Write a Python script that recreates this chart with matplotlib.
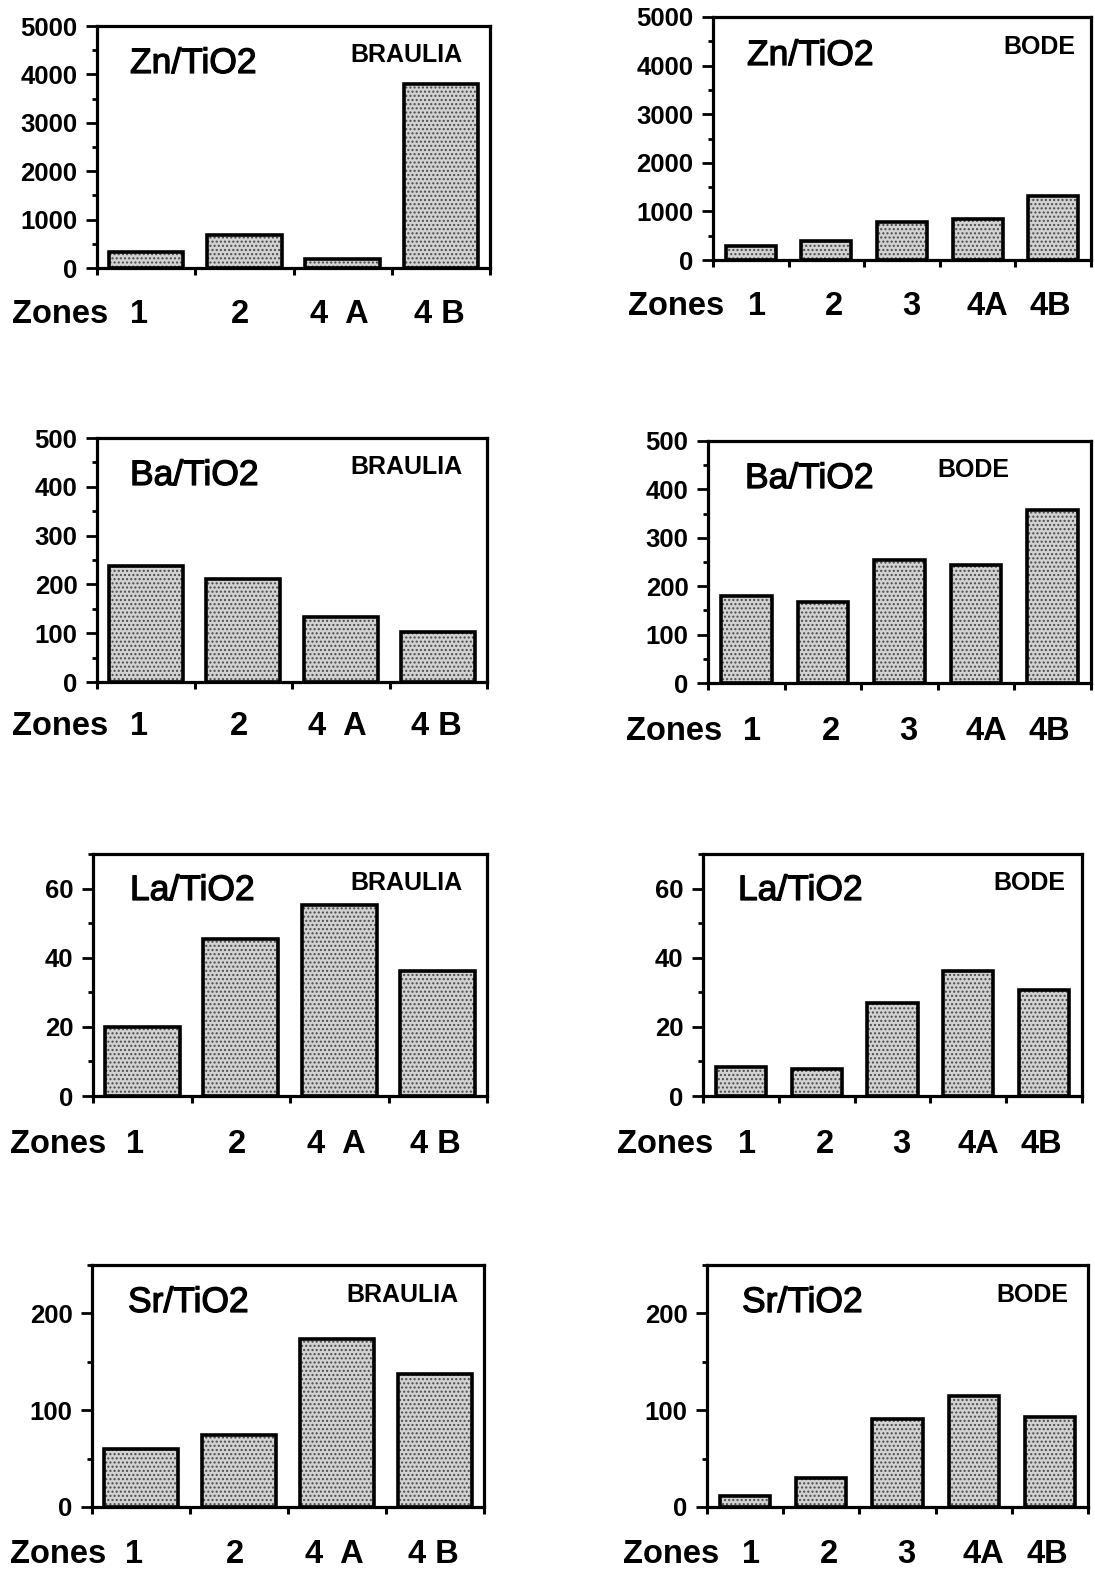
import matplotlib
matplotlib.use('Agg')
import matplotlib.pyplot as plt
import matplotlib.patheffects as pe
import numpy as np
from matplotlib.transforms import blended_transform_factory, offset_copy
from matplotlib.ticker import MultipleLocator, FixedLocator, NullFormatter

plt.rcParams['font.family'] = ['Liberation Sans', 'DejaVu Sans']

# data
zones_braulia = ['1', '2', '4  A', '4 B']
zones_bode = ['1', '2', '3', '4A', '4B']

zn_braulia = [330, 680, 185, 3800]
zn_bode = [290, 400, 780, 845, 1320]
ba_braulia = [238, 211, 134, 102]
ba_bode = [179, 167, 255, 243, 357]
la_braulia = [20, 45.4, 55.3, 36.1]
la_bode = [8.4, 7.7, 27.0, 36.3, 30.8]
sr_braulia = [60, 74, 174, 137]
sr_bode = [11, 30, 91, 115, 93]

W, H = 1095, 1572
fig = plt.figure(figsize=(W / 100, H / 100), dpi=100)


def fx(x):
    return x / W


def fy(y):
    return 1 - y / H


# small pixel nudges of the zone labels, as set in the original
nudge = {4: [-7, -4, -3, -2], 5: [6, 8, 9, 10, -3]}

# panel boxes in pixels: left, right, top, zero-line
panels = [
    ((97, 490, 26, 268), zn_braulia, zones_braulia, 5000, 1000, 500, 'Zn/TiO2', 'BRAULIA', (130, 73), (463, 62), (12, 323)),
    ((713, 1091, 17, 260), zn_bode, zones_bode, 5000, 1000, 500, 'Zn/TiO2', 'BODE', (747, 65), (1075, 54), (628, 315)),
    ((97, 487, 438, 682), ba_braulia, zones_braulia, 500, 100, 50, 'Ba/TiO2', 'BRAULIA', (130, 485), (463, 474), (12, 735)),
    ((708, 1091, 441, 683), ba_bode, zones_bode, 500, 100, 50, 'Ba/TiO2', 'BODE', (745, 488), (1009, 477), (626, 740)),
    ((93, 487, 854, 1096), la_braulia, zones_braulia, 70, 20, 10, 'La/TiO2', 'BRAULIA', (130, 900), (462, 890), (10, 1153)),
    ((703, 1082, 854, 1096), la_bode, zones_bode, 70, 20, 10, 'La/TiO2', 'BODE', (738, 900), (1065, 890), (617, 1153)),
    ((92, 484, 1265, 1507), sr_braulia, zones_braulia, 250, 100, 50, 'Sr/TiO2', 'BRAULIA', (128, 1312), (459, 1302), (10, 1563)),
    ((707, 1088, 1265, 1507), sr_bode, zones_bode, 250, 100, 50, 'Sr/TiO2', 'BODE', (742, 1312), (1068, 1302), (623, 1563)),
]

heavy = [pe.withStroke(linewidth=0.9, foreground='black')]

for box, vals, zones, ytop, major, minor, elem, site, txy, sxy, zxy in panels:
    l, r, t, b = box
    ax = fig.add_axes([fx(l), fy(b), (r - l) / W, (b - t) / H])
    n = len(vals)
    x = np.arange(n)
    bw = 0.76 if n == 4 else 0.66
    ax.bar(x, vals, width=bw, color='#d2d2d2', edgecolor='#4a4a4a', linewidth=0, hatch='....', zorder=2)
    ax.bar(x, vals, width=bw, fill=False, edgecolor='black', linewidth=2.6, zorder=3)
    ax.set_xlim(-0.5, n - 0.5)
    ax.set_ylim(0, ytop)

    ax.yaxis.set_major_locator(MultipleLocator(major))
    ax.yaxis.set_minor_locator(MultipleLocator(minor))
    ax.tick_params(axis='y', which='major', direction='out', length=8, width=2, pad=6,
                   labelsize=18.5)
    ax.tick_params(axis='y', which='minor', direction='out', length=3.5, width=2)
    for lab in ax.get_yticklabels():
        lab.set_fontweight('bold')

    ax.xaxis.set_major_locator(FixedLocator([]))
    ax.xaxis.set_minor_locator(FixedLocator(np.arange(n + 1) - 0.5))
    ax.xaxis.set_minor_formatter(NullFormatter())
    ax.tick_params(axis='x', which='minor', direction='out', length=5, width=2.2)

    for sp in ax.spines.values():
        sp.set_linewidth(2.3)

    # category labels under the axis
    trans = blended_transform_factory(ax.transData, fig.transFigure)
    for i, z in enumerate(zones):
        tr = offset_copy(trans, fig=fig, x=nudge[n][i], y=0, units='dots')
        ax.text(i, fy(zxy[1]), z, transform=tr, ha='center', va='baseline',
                fontsize=23.5, fontweight='bold')
    fig.text(fx(zxy[0]), fy(zxy[1]), 'Zones', ha='left', va='baseline',
             fontsize=23.5, fontweight='bold')

    fig.text(fx(txy[0]), fy(txy[1]), elem, ha='left', va='baseline', fontsize=25.5,
             path_effects=heavy)
    fig.text(fx(sxy[0]), fy(sxy[1]), site, ha='right', va='baseline', fontsize=18,
             fontweight='bold')

fig.savefig('out.png', dpi=100)
